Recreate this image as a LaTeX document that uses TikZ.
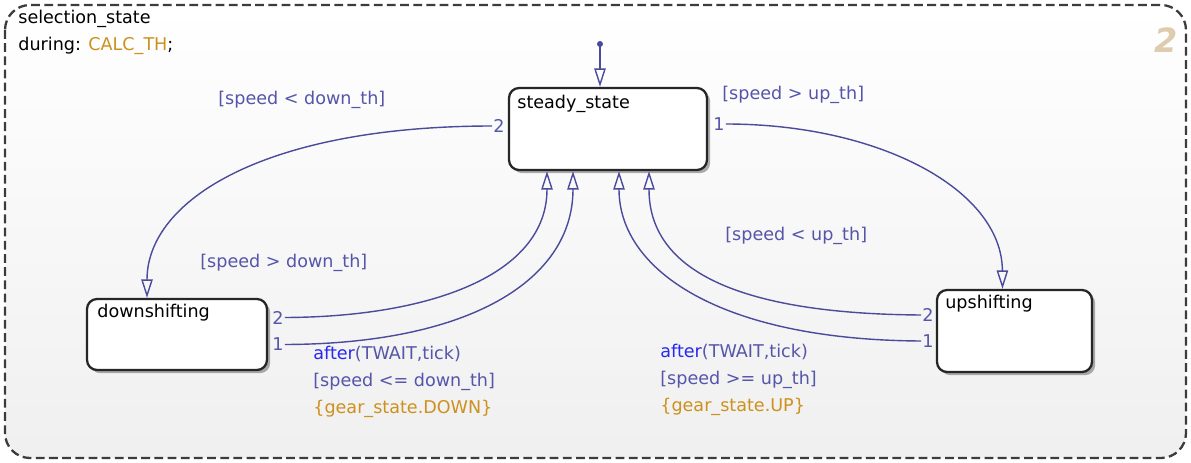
\documentclass[tikz,border=0pt]{standalone}
\usepackage{fontspec}
\setmainfont{DejaVu Sans}
\usetikzlibrary{arrows.meta,shadows,calc}
\definecolor{trc}{RGB}{75,75,155}
\definecolor{lbc}{RGB}{85,85,170}
\definecolor{orc}{RGB}{205,145,30}
\definecolor{afc}{RGB}{40,40,240}
\definecolor{tanc}{RGB}{222,204,175}
\definecolor{bordc}{RGB}{60,60,60}
\begin{document}
\begin{tikzpicture}[x=0.02cm,y=-0.02cm,
  txt/.style={font=\fontsize{10}{12}\selectfont, inner sep=0pt, anchor=west},
  lbl/.style={txt, text=lbc},
  num/.style={font=\fontsize{10}{12}\selectfont, inner sep=0.5pt, text=lbc},
  statebox/.style={draw=black!85, line width=1.3pt, fill=white, rounded corners=0.2cm,
    drop shadow={shadow xshift=1.8pt, shadow yshift=-1.8pt, opacity=0.45, fill=black!70},
    inner sep=0pt},
  tr/.style={draw=trc, line width=0.8pt, -{Triangle[open, length=10.5pt, width=6.5pt]}},
  outerbox/.style={draw=bordc, line width=1.3pt, dash pattern=on 5pt off 2.5pt,
    rounded corners=0.5cm, top color=white, bottom color=black!6}
]
\useasboundingbox (0,0) rectangle (1191,463);
\path[outerbox] (5,5) rectangle (1186,458);

\node[txt] (title) at (18,19) {selection\_state};
\node[txt] (during) at (18,46) {during: \textcolor{orc}{CALC\_TH};};
\node[font=\fontsize{19}{22}\selectfont\bfseries\itshape, text=tanc, inner sep=0pt] (num2) at (1166,40) {2};

% states
\node[statebox, minimum width=3.96cm, minimum height=1.64cm] (ss) at (608,129) {};
\node[statebox, minimum width=3.6cm, minimum height=1.42cm] (ds) at (177,334.5) {};
\node[statebox, minimum width=3.1cm, minimum height=1.64cm] (us) at (1014.5,331) {};
\node[txt] (ssl) at (517,104) {steady\_state};
\node[txt] (dsl) at (97,313) {downshifting};
\node[txt] (usl) at (945,304) {upshifting};

% default transition
\fill[trc] (600,44) circle (3);
\coordinate (dflt) at (600,44);
\draw[tr] (dflt) -- ($(ss.north)+(-8,0)$);

% transition numbers
\node[num, anchor=east] (s2) at ($(ss.west)+(-2,-3)$) {2};
\node[num, anchor=west] (s1) at ($(ss.east)+(4,-5)$) {1};
\node[num, anchor=west] (d2) at ($(ds.east)+(3,-17)$) {2};
\node[num, anchor=west] (d1) at ($(ds.east)+(3,10)$) {1};
\node[num, anchor=east] (u2) at ($(us.west)+(-1,-16)$) {2};
\node[num, anchor=east] (u1) at ($(us.west)+(-1,10)$) {1};

% transitions
\draw[tr] (s1.east) .. controls (880,124) and (1002,190) .. ($(us.north)+(-12,0)$);
\draw[tr] (s2.west) .. controls (265,126) and (147,200) .. ($(ds.north)+(-30,0)$);
\draw[tr] (d2.east) .. controls (430,317) and (547,275) .. ($(ss.south)+(-61,0)$);
\draw[tr] (d1.east) .. controls (470,344) and (573,280) .. ($(ss.south)+(-35,0)$);
\draw[tr] (u2.west) .. controls (760,314) and (649,280) .. ($(ss.south)+(41,0)$);
\draw[tr] (u1.west) .. controls (720,340) and (619,270) .. ($(ss.south)+(11,0)$);

% labels
\node[lbl] (l1) at (722,95) {[speed > up\_th]};
\node[lbl] (l2) at (218,100) {[speed < down\_th]};
\node[lbl] (l3) at (200,263) {[speed > down\_th]};
\node[lbl] (l5) at (725,236) {[speed < up\_th]};
\node[lbl, anchor=north west, align=left, font=\fontsize{10}{15.3}\selectfont] (l4) at (313,346)
  {\textcolor{afc}{after}(TWAIT,tick)\\{[}speed <= down\_th{]}\\\textcolor{orc}{\{gear\_state.DOWN\}}};
\node[lbl, anchor=north west, align=left, font=\fontsize{10}{15.3}\selectfont] (l6) at (660,344)
  {\textcolor{afc}{after}(TWAIT,tick)\\{[}speed >= up\_th{]}\\\textcolor{orc}{\{gear\_state.UP\}}};
\end{tikzpicture}
\end{document}
